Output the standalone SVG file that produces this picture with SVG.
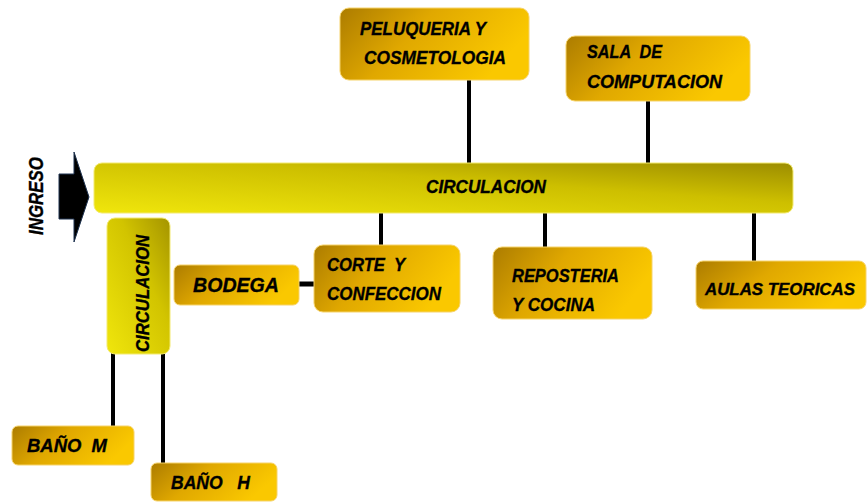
<svg xmlns="http://www.w3.org/2000/svg" width="867" height="502" viewBox="0 0 867 502">
<defs>
<linearGradient id="gold" x1="0" y1="0" x2="1" y2="0.35">
<stop offset="0" stop-color="#ac7c00"/>
<stop offset="0.45" stop-color="#e0a800"/>
<stop offset="1" stop-color="#fac800"/>
</linearGradient>
<linearGradient id="limeH" x1="0" y1="1" x2="1" y2="0">
<stop offset="0" stop-color="#f0e60c"/>
<stop offset="0.6" stop-color="#cdbf00"/>
<stop offset="1" stop-color="#9c8d00"/>
</linearGradient>
<linearGradient id="limeV" x1="0" y1="1" x2="1" y2="0">
<stop offset="0" stop-color="#f0e60c"/>
<stop offset="0.6" stop-color="#d2c400"/>
<stop offset="1" stop-color="#a49400"/>
</linearGradient>
</defs>
<style>
.box{fill:url(#gold);stroke:#f6d36a;stroke-width:1}
.t{font-family:"Liberation Sans",Arial,sans-serif;font-weight:bold;font-style:italic;font-size:19px;fill:#000;stroke:#000;stroke-width:0.35;white-space:pre}
.c{stroke:#000;stroke-width:4;fill:none}
</style>
<g id="connectors">
<line class="c" x1="469" y1="80" x2="469" y2="164"/>
<line class="c" x1="648" y1="101" x2="648" y2="164"/>
<line class="c" x1="381" y1="212" x2="381" y2="246"/>
<line class="c" x1="545" y1="212" x2="545" y2="248"/>
<line class="c" x1="754" y1="212" x2="754" y2="262"/>
<line class="c" x1="298" y1="284" x2="316" y2="284" style="stroke-width:5"/>
<line class="c" x1="113" y1="353" x2="113" y2="427"/>
<line class="c" x1="163" y1="353" x2="163" y2="464"/>
</g>
<g id="ingreso">
<path d="M59,174 H74 V152 L89,197 L74,242 V219 H59 Z" fill="#000" stroke="#1f3350" stroke-width="1"/>
<text class="t" transform="translate(43,196) rotate(-90)" text-anchor="middle" style="font-size:20px" textLength="78" lengthAdjust="spacingAndGlyphs">INGRESO</text>
</g>
<g id="circulacion-h">
<rect x="94" y="163" width="699" height="50" rx="8" fill="url(#limeH)" stroke="#f3ea70" stroke-width="1"/>
<text class="t" x="426" y="193" style="font-size:18px" textLength="120" lengthAdjust="spacingAndGlyphs">CIRCULACION</text>
</g>
<g id="circulacion-v">
<rect x="107" y="218" width="63" height="136" rx="8" fill="url(#limeV)" stroke="#f3ea70" stroke-width="1"/>
<text class="t" transform="translate(149,352) rotate(-90)" style="font-size:18px" textLength="117" lengthAdjust="spacingAndGlyphs">CIRCULACION</text>
</g>
<g id="peluqueria">
<rect class="box" x="340" y="8" width="189" height="72" rx="9"/>
<text class="t" x="360" y="35" textLength="126" lengthAdjust="spacingAndGlyphs">PELUQUERIA Y</text>
<text class="t" x="364" y="64" textLength="142" lengthAdjust="spacingAndGlyphs">COSMETOLOGIA</text>
</g>
<g id="computacion">
<rect class="box" x="566" y="36" width="184" height="65" rx="9"/>
<text class="t" x="587" y="58" textLength="75" lengthAdjust="spacingAndGlyphs">SALA  DE</text>
<text class="t" x="587" y="88" textLength="135" lengthAdjust="spacingAndGlyphs">COMPUTACION</text>
</g>
<g id="bodega">
<rect class="box" x="174" y="265" width="125" height="40" rx="6"/>
<text class="t" x="193" y="292" style="font-size:21px" textLength="86" lengthAdjust="spacingAndGlyphs">BODEGA</text>
</g>
<g id="corte">
<rect class="box" x="314" y="245" width="146" height="67" rx="9"/>
<text class="t" x="327" y="271" textLength="78" lengthAdjust="spacingAndGlyphs">CORTE  Y</text>
<text class="t" x="327" y="300" textLength="114" lengthAdjust="spacingAndGlyphs">CONFECCION</text>
</g>
<g id="reposteria">
<rect class="box" x="493" y="247" width="159" height="72" rx="9"/>
<text class="t" x="512" y="282" textLength="107" lengthAdjust="spacingAndGlyphs">REPOSTERIA</text>
<text class="t" x="512" y="311" textLength="83" lengthAdjust="spacingAndGlyphs">Y COCINA</text>
</g>
<g id="aulas">
<rect class="box" x="696" y="261" width="170" height="48" rx="7"/>
<text class="t" x="705" y="295" style="font-size:17px" textLength="150" lengthAdjust="spacingAndGlyphs">AULAS TEORICAS</text>
</g>
<g id="bano-m">
<rect class="box" x="12" y="426" width="122" height="39" rx="6"/>
<text class="t" x="27" y="452" textLength="80" lengthAdjust="spacingAndGlyphs">BAÑO  M</text>
</g>
<g id="bano-h">
<rect class="box" x="151" y="463" width="126" height="38" rx="6"/>
<text class="t" x="171" y="489" textLength="79" lengthAdjust="spacingAndGlyphs">BAÑO   H</text>
</g>
</svg>
